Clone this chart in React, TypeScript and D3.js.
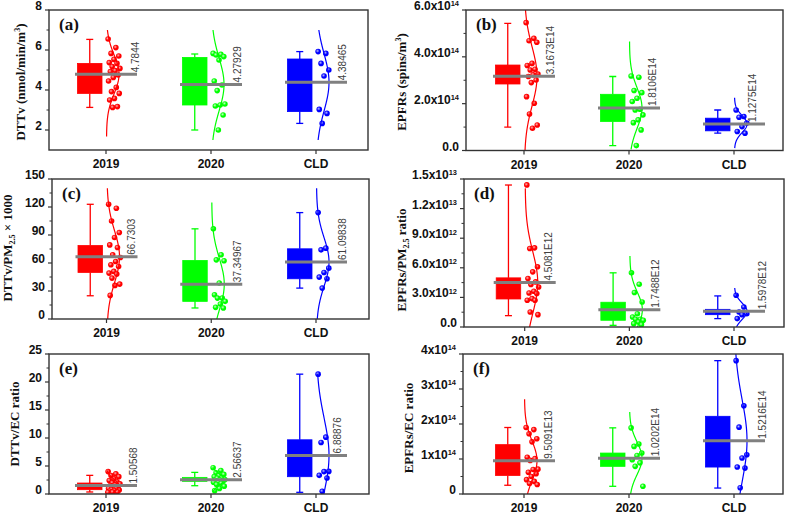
import React from 'react';
import * as d3 from 'd3';

// ---------------- DATA ----------------
const categories = ['2019', '2020', 'CLD'];
const groupColors = ['#FF0000', '#00FF00', '#0000FF'];
const groupHighlights = ['#FFB0B0', '#C8FFC8', '#B8B8FF'];

// (a) DTTv (nmol/min/m3)
const aMeanLabels = ['4.7844', '4.27929', '4.38465'];
const aQ1 = [3.83, 3.25, 2.92];
const aQ3 = [5.33, 5.63, 5.55];
const aWhiskerLow = [3.13, 2.0, 2.33];
const aWhiskerHigh = [6.53, 5.8, 5.92];
const aCurveLow = [1.67, 1.5, 1.5];
const aCurveHigh = [7.0, 7.0, 7.0];
const a2019 = [6.55, 6.12, 5.83, 5.7, 5.53, 5.37, 5.33, 5.17, 5.08, 4.97, 4.92, 4.75, 4.63, 4.45, 4.13, 3.92, 3.83, 3.58, 3.5, 3.17, 3.13];
const a2020 = [5.83, 5.78, 5.75, 5.67, 5.5, 4.45, 4.25, 3.97, 3.3, 3.25, 3.2, 2.75, 2.0];
const aCLD = [5.92, 5.83, 5.33, 5.0, 4.7, 3.03, 2.83, 2.33];
const aTicks = [2, 4, 6, 8];
const aTickLabels = ['2', '4', '6', '8'];

// (b) EPFRs (spins/m3), values in 1e14
const bUnit = 1e14;
const bMeanLabels = ['3.1673E14', '1.8106E14', '1.1275E14'];
const bQ1 = [2.84, 1.24, 0.84];
const bQ3 = [3.65, 2.4, 1.38];
const bWhiskerLow = [1.0, 0.21, 0.74];
const bWhiskerHigh = [5.43, 3.16, 1.73];
const bCurveLow = [0, 0.05, 0.1];
const bCurveHigh = [6.0, 4.65, 2.25];
const b2019 = [5.46, 4.79, 4.69, 4.62, 3.72, 3.63, 3.47, 3.44, 3.27, 3.23, 3.16, 3.01, 2.9, 2.3, 2.02, 1.56, 1.09, 0.95];
const b2020 = [3.18, 3.13, 2.56, 2.47, 2.23, 2.09, 1.76, 1.73, 1.52, 1.31, 1.19, 0.88, 0.21];
const bCLD = [1.73, 1.45, 1.42, 1.17, 1.02, 0.81, 0.74];
const bTicks = [0, 2, 4, 6];
const bTickLabels = ['0.0', '2.0x10^{14}', '4.0x10^{14}', '6.0x10^{14}'];

// (c) DTTv/PM2.5 x 1000
const cMeanLabels = ['66.7303', '37.34967', '61.09838'];
const cQ1 = [49.9, 18.9, 43.1];
const cQ3 = [78.7, 62.7, 75.2];
const cWhiskerLow = [24.9, 11.8, 33.1];
const cWhiskerHigh = [122.9, 96.6, 114];
const cCurveLow = [0, 0, 0];
const cCurveHigh = [140, 124.7, 140];
const c2019 = [123, 118.6, 105, 92.6, 87.3, 79.4, 76.6, 68.8, 65.9, 61.6, 58.1, 56.3, 51, 49.2, 48.1, 43.8, 37.4, 36, 25.3];
const c2020 = [96.6, 68.8, 63.4, 62.4, 38.5, 26, 22.4, 22.4, 18.9, 16, 12.5, 11.8];
const cCLD = [114, 75.9, 74.1, 54.5, 49.9, 44.9, 43.1, 33.1];
const cTicks = [0, 30, 60, 90, 120, 150];
const cTickLabels = ['0', '30', '60', '90', '120', '150'];

// (d) EPFRs/PM2.5 ratio, values in 1e12
const dUnit = 1e12;
const dMeanLabels = ['4.5081E12', '1.7488E12', '1.5978E12'];
const dQ1 = [2.84, 0.68, 1.25];
const dQ3 = [4.98, 2.51, 1.79];
const dWhiskerLow = [1.15, 0.17, 0.85];
const dWhiskerHigh = [14.39, 5.49, 3.15];
const dCurveLow = [0, 0, 0];
const dCurveHigh = [14.05, 7.2, 3.96];
const d2019 = [14.4, 8.02, 7.95, 6.1, 5.59, 4.91, 4.57, 4.3, 4.06, 3.62, 3.45, 3.39, 2.88, 2.71, 2.71, 1.52, 1.25];
const d2020 = [5.49, 4.33, 3.49, 2.54, 1.35, 1.02, 0.78, 0.78, 0.68, 0.51, 0.34, 0.24];
const dCLD = [3.22, 2.03, 1.52, 1.35, 1.25, 0.85];
const dTicks = [0, 3, 6, 9, 12, 15];
const dTickLabels = ['0.0', '3.0x10^{12}', '6.0x10^{12}', '9.0x10^{12}', '1.2x10^{13}', '1.5x10^{13}'];

// (e) DTTv/EC ratio
const eMeanLabels = ['1.50568', '2.56637', '6.88876'];
const eQ1 = [0.77, 2.26, 3.09];
const eQ3 = [1.96, 2.97, 9.68];
const eWhiskerLow = [0.36, 1.48, 0.3];
const eWhiskerHigh = [3.33, 3.86, 21.4];
const eCurveLow = [0.2, 0.4, 0];
const eCurveHigh = [4.2, 4.8, 21.5];
const e2019 = [4.0, 3.6, 3.3, 3.1, 2.7, 2.4, 2.2, 2.0, 1.8, 1.6, 1.5, 1.3, 1.2, 1.0, 0.9, 0.8, 0.7, 0.6, 0.5, 0.4, 0.35, 0.3];
const e2020 = [4.7, 4.2, 3.8, 3.5, 3.3, 3.1, 2.9, 2.8, 2.6, 2.5, 2.4, 2.3, 2.2, 2.1, 1.9, 1.7, 1.4, 1.0, 0.6];
const eCLD = [21.4, 10.15, 9.2, 4.04, 4.0, 3.33, 2.85, 0.47];
const eTicks = [0, 5, 10, 15, 20, 25];
const eTickLabels = ['0', '5', '10', '15', '20', '25'];

// (f) EPFRs/EC ratio, values in 1e14
const fUnit = 1e14;
const fMeanLabels = ['9.5091E13', '1.0202E14', '1.5216E14'];
const fQ1 = [0.53, 0.79, 0.77];
const fQ3 = [1.41, 1.17, 2.22];
const fWhiskerLow = [0.25, 0.22, 0.17];
const fWhiskerHigh = [1.9, 1.89, 3.81];
const fCurveLow = [0, 0, 0];
const fCurveHigh = [2.71, 2.34, 4.0];
const f2019 = [1.9, 1.84, 1.72, 1.58, 1.49, 1.05, 1.01, 0.96, 0.71, 0.7, 0.62, 0.58, 0.5, 0.41, 0.36, 0.3, 0.27];
const f2020 = [1.89, 1.43, 1.36, 1.17, 1.1, 0.98, 0.89, 0.79, 0.22];
const fCLD = [3.81, 2.52, 1.91, 1.12, 1.03, 0.77, 0.74, 0.18];
const fTicks = [0, 1, 2, 3, 4];
const fTickLabels = ['0', '1x10^{14}', '2x10^{14}', '3x10^{14}', '4x10^{14}'];

// ---------------- LAYOUT ----------------
type Frame = { l: number; r: number; t: number; b: number };
type PanelDef = {
  tag: string;
  title: string;
  unit: number;
  domain: [number, number];
  ticks: number[];
  tickLabels: string[];
  meanLabels: string[];
  q1: number[]; q3: number[]; wLo: number[]; wHi: number[];
  cLo: number[]; cHi: number[];
  points: number[][];
  frame: Frame;
  cx: [number, number];
  titlePos: [number, number];
  labelDx: number[];
};

const panels: PanelDef[] = [
  {
    tag: '(a)', title: 'DTTv (nmol/min/m^{3})', unit: 1, domain: [1, 8],
    ticks: aTicks, tickLabels: aTickLabels, meanLabels: aMeanLabels,
    q1: aQ1, q3: aQ3, wLo: aWhiskerLow, wHi: aWhiskerHigh, cLo: aCurveLow, cHi: aCurveHigh,
    points: [a2019, a2020, aCLD],
    frame: { l: 49, r: 368, t: 10, b: 150 }, cx: [106, 316], titlePos: [25, 82], labelDx: [29, 26, 26],
  },
  {
    tag: '(b)', title: 'EPFRs (spins/m^{3})', unit: bUnit, domain: [0, 6],
    ticks: bTicks, tickLabels: bTickLabels, meanLabels: bMeanLabels,
    q1: bQ1, q3: bQ3, wLo: bWhiskerLow, wHi: bWhiskerHigh, cLo: bCurveLow, cHi: bCurveHigh,
    points: [b2019, b2020, bCLD],
    frame: { l: 466, r: 783, t: 10, b: 150.5 }, cx: [524, 734], titlePos: [406, 82], labelDx: [26, 23, 18],
  },
  {
    tag: '(c)', title: 'DTTv/PM_{2.5} × 1000', unit: 1, domain: [0, 150],
    ticks: cTicks, tickLabels: cTickLabels, meanLabels: cMeanLabels,
    q1: cQ1, q3: cQ3, wLo: cWhiskerLow, wHi: cWhiskerHigh, cLo: cCurveLow, cHi: cCurveHigh,
    points: [c2019, c2020, cCLD],
    frame: { l: 52, r: 369, t: 179, b: 319 }, cx: [106.5, 316], titlePos: [12, 248], labelDx: [25, 26, 26],
  },
  {
    tag: '(d)', title: 'EPFRs/PM_{2.5} ratio', unit: dUnit, domain: [0, 15],
    ticks: dTicks, tickLabels: dTickLabels, meanLabels: dMeanLabels,
    q1: dQ1, q3: dQ3, wLo: dWhiskerLow, wHi: dWhiskerHigh, cLo: dCurveLow, cHi: dCurveHigh,
    points: [d2019, d2020, dCLD],
    frame: { l: 464, r: 784, t: 179, b: 327 }, cx: [524.7, 734], titlePos: [406, 260], labelDx: [24, 26, 28],
  },
  {
    tag: '(e)', title: 'DTTv/EC ratio', unit: 1, domain: [0, 25],
    ticks: eTicks, tickLabels: eTickLabels, meanLabels: eMeanLabels,
    q1: eQ1, q3: eQ3, wLo: eWhiskerLow, wHi: eWhiskerHigh, cLo: eCurveLow, cHi: eCurveHigh,
    points: [e2019, e2020, eCLD],
    frame: { l: 49, r: 369, t: 354, b: 494 }, cx: [106, 316], titlePos: [19, 424], labelDx: [27, 26, 21],
  },
  {
    tag: '(f)', title: 'EPFRs/EC ratio', unit: fUnit, domain: [0, 4],
    ticks: fTicks, tickLabels: fTickLabels, meanLabels: fMeanLabels,
    q1: fQ1, q3: fQ3, wLo: fWhiskerLow, wHi: fWhiskerHigh, cLo: fCurveLow, cHi: fCurveHigh,
    points: [f2019, f2020, fCLD],
    frame: { l: 463, r: 783, t: 354, b: 494 }, cx: [524, 734], titlePos: [413, 428], labelDx: [24, 26, 28],
  },
];

const SANS = '"Liberation Sans", Arial, sans-serif';
const SERIF = '"Liberation Serif", "Times New Roman", serif';
const AXIS = '#333333';

// ---------------- RICH TEXT ----------------
type Seg = { text: string; kind: 'n' | 'sup' | 'sub' };
function parseRich(s: string): Seg[] {
  const out: Seg[] = [];
  const re = /\^\{([^}]*)\}|_\{([^}]*)\}|([^^_]+)/g;
  let m: RegExpExecArray | null;
  while ((m = re.exec(s))) {
    if (m[1] !== undefined) out.push({ text: m[1], kind: 'sup' });
    else if (m[2] !== undefined) out.push({ text: m[2], kind: 'sub' });
    else out.push({ text: m[3], kind: 'n' });
  }
  return out;
}
function richSpans(s: string, fs: number, supShift = 0.42) {
  const segs = parseRich(s);
  let shift = 0;
  return segs.map((sg, i) => {
    let target = 0;
    let size = fs;
    if (sg.kind === 'sup') { target = -fs * supShift; size = fs * 0.62; }
    if (sg.kind === 'sub') { target = fs * 0.25; size = fs * 0.62; }
    const dy = target - shift;
    shift = target;
    return (
      <tspan key={i} dy={dy} fontSize={size}>{sg.text}</tspan>
    );
  });
}

// ---------------- PANEL ----------------
function Panel({ p, idx }: { p: PanelDef; idx: number }) {
  const { frame } = p;
  const y = d3.scaleLinear().domain(p.domain.map((v) => v * p.unit)).range([frame.b, frame.t]);
  const x = d3.scalePoint<string>().domain(categories).range(p.cx);
  const minor = d3.pairs(p.ticks).map(([a, b]) => (a + b) / 2);
  const clipId = `clip-${idx}`;
  const amp = 12.5;
  const line = d3.line<[number, number]>().x((d) => d[0]).y((d) => d[1]);

  return (
    <g>
      <defs>
        <clipPath id={clipId}>
          <rect x={frame.l} y={frame.t} width={frame.r - frame.l} height={frame.b - frame.t} />
        </clipPath>
      </defs>

      {/* groups */}
      <g clipPath={`url(#${clipId})`}>
        {categories.map((cat, gi) => {
          const c = x(cat) as number;
          const col = groupColors[gi];
          const u = p.unit;
          const bx0 = c - 28.5;
          const bx1 = c - 4;
          const bc = (bx0 + bx1) / 2;
          const mean = Number(p.meanLabels[gi]);
          const pts = p.points[gi];
          const sd = (d3.deviation(pts) as number) * u;
          const lo = p.cLo[gi] * u;
          const hi = p.cHi[gi] * u;
          const curvePts: [number, number][] = d3.range(0, 121).map((k) => {
            const v = lo + ((hi - lo) * k) / 120;
            const z = (v - mean) / sd;
            return [c + 0.5 + amp * Math.exp(-0.5 * z * z), y(v)];
          });
          return (
            <g key={cat}>
              {/* whiskers */}
              <line x1={bc} x2={bc} y1={y(p.wHi[gi] * u)} y2={y(p.q3[gi] * u)} stroke={col} strokeWidth={1.3} />
              <line x1={bc} x2={bc} y1={y(p.wLo[gi] * u)} y2={y(p.q1[gi] * u)} stroke={col} strokeWidth={1.3} />
              <line x1={bc - 3.5} x2={bc + 3.5} y1={y(p.wHi[gi] * u)} y2={y(p.wHi[gi] * u)} stroke={col} strokeWidth={1.3} />
              <line x1={bc - 3.5} x2={bc + 3.5} y1={y(p.wLo[gi] * u)} y2={y(p.wLo[gi] * u)} stroke={col} strokeWidth={1.3} />
              {/* box */}
              <rect x={bx0} y={y(p.q3[gi] * u)} width={bx1 - bx0}
                height={Math.max(1, y(p.q1[gi] * u) - y(p.q3[gi] * u))} fill={col} stroke={col} strokeWidth={0.8} />
              {/* points */}
              {pts.map((v, i) => {
                const off = 1.5 + 12.5 * ((i * 0.618034 + 0.05) % 1);
                return <circle key={i} cx={c + off} cy={y(v * u)} r={2.8} fill={`url(#grad-${gi})`} />;
              })}
              {/* normal curve */}
              <path d={line(curvePts) || ''} fill="none" stroke={col} strokeWidth={1.2} />
              {/* mean line */}
              <line x1={c - 31} x2={c + 31} y1={y(mean)} y2={y(mean)} stroke="#808080" strokeWidth={3} />
            </g>
          );
        })}
      </g>

      {/* mean labels */}
      {categories.map((cat, gi) => {
        const c = x(cat) as number;
        const mean = Number(p.meanLabels[gi]);
        const lx = c + p.labelDx[gi];
        const ly = y(mean) - 2;
        return (
          <text key={'ml' + gi} transform={`translate(${lx},${ly}) rotate(-90)`} dy="0.35em"
            fontFamily={SANS} fontSize={10} fill="#404040">
            {p.meanLabels[gi]}
          </text>
        );
      })}

      {/* frame */}
      <rect x={frame.l} y={frame.t} width={frame.r - frame.l} height={frame.b - frame.t}
        fill="none" stroke={AXIS} strokeWidth={1.4} />

      {/* y ticks */}
      {p.ticks.map((t, i) => (
        <g key={'yt' + i}>
          <line x1={frame.l - 4} x2={frame.l} y1={y(t * p.unit)} y2={y(t * p.unit)} stroke={AXIS} strokeWidth={1.2} />
          <text x={frame.l - 7} y={y(t * p.unit)} dy="0.36em" textAnchor="end" fontFamily={SANS}
            fontWeight="bold" fontSize={12} fill="#111">
            {richSpans(p.tickLabels[i], 12, 0.3)}
          </text>
        </g>
      ))}
      {minor.map((t, i) => (
        <line key={'ym' + i} x1={frame.l - 2.5} x2={frame.l} y1={y(t * p.unit)} y2={y(t * p.unit)} stroke={AXIS} strokeWidth={1} />
      ))}

      {/* x ticks & labels */}
      {categories.map((cat) => {
        const c = x(cat) as number;
        return (
          <g key={'xt' + cat}>
            <line x1={c} x2={c} y1={frame.b} y2={frame.b + 4} stroke={AXIS} strokeWidth={1.2} />
            <text x={c} y={frame.b + 18} textAnchor="middle" fontFamily={SANS} fontWeight="bold" fontSize={12} fill="#111">
              {cat}
            </text>
          </g>
        );
      })}

      {/* y title */}
      <text transform={`translate(${p.titlePos[0]},${p.titlePos[1]}) rotate(-90)`} dy="0.35em" textAnchor="middle"
        fontFamily={SERIF} fontWeight="bold" fontSize={13} fill="#111">
        {richSpans(p.title, 13)}
      </text>

      {/* panel tag */}
      <text x={frame.l + 10} y={frame.t + 20} fontFamily={SERIF} fontWeight="bold" fontSize={17} fill="#111">
        {p.tag}
      </text>
    </g>
  );
}

export default function App() {
  return (
    <svg width={789} height={517} style={{ position: 'absolute', left: 0, top: 0, display: 'block' }}>
      <defs>
        {groupColors.map((c, i) => (
          <radialGradient key={i} id={`grad-${i}`} cx="40%" cy="38%" r="60%">
            <stop offset="0%" stopColor={groupHighlights[i]} />
            <stop offset="55%" stopColor={c} />
            <stop offset="100%" stopColor={c} />
          </radialGradient>
        ))}
      </defs>
      <rect x={0} y={0} width={789} height={517} fill="#ffffff" />
      {panels.map((p, i) => (
        <Panel key={p.tag} p={p} idx={i} />
      ))}
    </svg>
  );
}
